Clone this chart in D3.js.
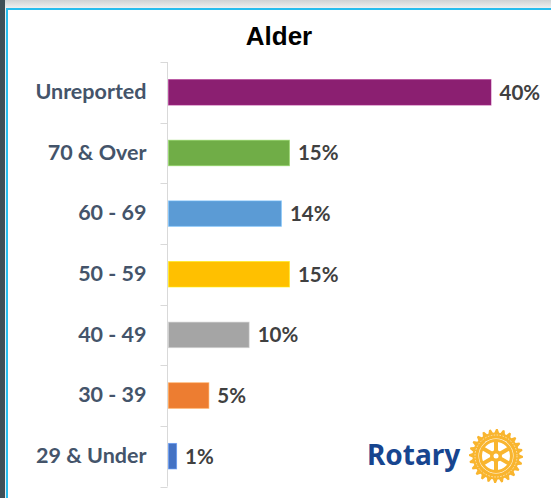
<!DOCTYPE html>
<html lang="en">
<head>
  <meta charset="UTF-8">
  <title>Alder</title>
  <style>
    * {
      padding: 0;
      margin: 0;
    }
    body { background: #fff; }
  </style>
</head>
<body>
  <script src="https://d3js.org/d3.v7.min.js"></script>
  <script>
    const categories = ['Unreported', '70 & Over', '60 - 69', '50 - 59', '40 - 49', '30 - 39', '29 & Under'];
    const values = [40, 15, 14, 15, 10, 5, 1];
    const colors = ['#8b1f71', '#70ad47', '#5b9bd5', '#ffc000', '#a5a5a5', '#ed7d31', '#4472c4'];
    const title = 'Alder';

    const width = 551;
    const height = 498;
    const axisX = 167.5;

    const svg = d3.select('body')
      .append('svg')
      .attr('width', width)
      .attr('height', height);

    // frame: dark strip left, grey strip top, cyan border
    const grad = svg.append('defs').append('linearGradient')
      .attr('id', 'topGrad').attr('x1', 0).attr('y1', 0).attr('x2', 0).attr('y2', 1);
    grad.append('stop').attr('offset', '0%').attr('stop-color', '#cfd2d4');
    grad.append('stop').attr('offset', '100%').attr('stop-color', '#f0f0f0');
    svg.append('rect').attr('x', 0).attr('y', 0).attr('width', width).attr('height', 8).attr('fill', 'url(#topGrad)');
    svg.append('rect').attr('x', 0).attr('y', 0).attr('width', 5).attr('height', height).attr('fill', '#3e4f57');
    svg.append('rect').attr('x', 5).attr('y', 8).attr('width', 1).attr('height', height).attr('fill', '#e8eef0');
    svg.append('rect').attr('x', 6).attr('y', 8).attr('width', width).attr('height', 2).attr('fill', '#27bdee');
    svg.append('rect').attr('x', 6).attr('y', 8).attr('width', 2).attr('height', height).attr('fill', '#27bdee');

    svg.append('text')
      .attr('x', 279)
      .attr('y', 45)
      .attr('text-anchor', 'middle')
      .attr('font-family', 'Liberation Sans, Arial, sans-serif')
      .attr('font-weight', 'bold')
      .attr('font-size', 26)
      .attr('fill', '#000')
      .text(title);

    const y = d3.scaleBand()
      .domain(categories)
      .range([62, 486.5])
      .paddingInner(0.58)
      .paddingOuter(0.29);

    const x = d3.scaleLinear()
      .domain([0, 40])
      .range([axisX + 1, 491]);

    // axis line and boundary ticks
    const axis = svg.append('g');
    axis.append('line')
      .attr('x1', axisX).attr('x2', axisX)
      .attr('y1', y.range()[0]).attr('y2', y.range()[1])
      .attr('stroke', '#d9d9d9').attr('stroke-width', 1);
    const bounds = d3.range(categories.length + 1).map(i => y.range()[0] + i * y.step());
    axis.selectAll('.tick')
      .data(bounds)
      .join('line')
      .attr('x1', axisX - 7).attr('x2', axisX)
      .attr('y1', d => Math.round(d) + 0.5).attr('y2', d => Math.round(d) + 0.5)
      .attr('stroke', '#d9d9d9');

    const labels = svg.append('g')
      .attr('transform', `translate(${axisX},0)`)
      .call(d3.axisLeft(y).tickSize(0).tickPadding(21));
    labels.select('.domain').remove();
    labels.selectAll('text')
      .attr('font-family', 'Lato, sans-serif')
      .attr('font-weight', 'bold')
      .attr('font-size', 21.5)
      .attr('fill', '#44546a');

    svg.append('g')
      .selectAll('rect')
      .data(values)
      .join('rect')
      .attr('x', x(0))
      .attr('y', (d, i) => y(categories[i]))
      .attr('width', d => x(d) - x(0))
      .attr('height', y.bandwidth())
      .attr('fill', (d, i) => colors[i])
      .attr('stroke', (d, i) => d3.color(colors[i]).brighter(0.6))
      .attr('stroke-opacity', 0.6)
      .attr('stroke-width', 1);

    svg.append('g')
      .selectAll('text')
      .data(values)
      .join('text')
      .attr('x', d => x(d) + 8.5)
      .attr('y', (d, i) => y(categories[i]) + y.bandwidth() / 2)
      .attr('dy', '0.36em')
      .attr('font-family', 'Lato, sans-serif')
      .attr('font-weight', 'bold')
      .attr('font-size', 20.5)
      .attr('fill', '#404040')
      .text(d => d + '%');

    // Rotary logo
    const logo = svg.append('g');
    logo.append('text')
      .attr('x', 367)
      .attr('y', 465)
      .attr('font-family', 'Noto Sans, sans-serif')
      .attr('font-weight', 'bold')
      .attr('font-size', 28)
      .attr('fill', '#17458f')
      .text('Rotary');

    const gold = '#f9b52e';
    const wheel = logo.append('g').attr('transform', 'translate(496,456)');
    const teeth = 24;
    const gear = [];
    for (let i = 0; i < teeth; i++) {
      const a0 = (i / teeth) * 2 * Math.PI;
      const a1 = ((i + 0.25) / teeth) * 2 * Math.PI;
      const a2 = ((i + 0.5) / teeth) * 2 * Math.PI;
      const a3 = ((i + 0.75) / teeth) * 2 * Math.PI;
      gear.push([Math.cos(a0) * 27, Math.sin(a0) * 27]);
      gear.push([Math.cos(a1) * 27, Math.sin(a1) * 27]);
      gear.push([Math.cos(a2) * 23.5, Math.sin(a2) * 23.5]);
      gear.push([Math.cos(a3) * 23.5, Math.sin(a3) * 23.5]);
    }
    wheel.append('path').attr('d', d3.line()(gear) + 'Z').attr('fill', gold);
    wheel.append('circle').attr('r', 17.5).attr('fill', '#fff');
    wheel.append('circle').attr('r', 21).attr('fill', 'none').attr('stroke', '#fde3b0').attr('stroke-width', 1).attr('stroke-dasharray', '1.5,1.5');
    wheel.append('circle').attr('r', 15.5).attr('fill', 'none').attr('stroke', gold).attr('stroke-width', 3);
    wheel.selectAll('.spoke')
      .data(d3.range(6))
      .join('line')
      .attr('x1', 0).attr('y1', 0)
      .attr('x2', d => Math.cos(d * Math.PI / 3 + Math.PI / 6) * 15)
      .attr('y2', d => Math.sin(d * Math.PI / 3 + Math.PI / 6) * 15)
      .attr('stroke', gold).attr('stroke-width', 4);
    wheel.append('circle').attr('r', 6).attr('fill', gold);
    wheel.append('circle').attr('r', 2.5).attr('fill', '#fff');
  </script>
</body>
</html>
